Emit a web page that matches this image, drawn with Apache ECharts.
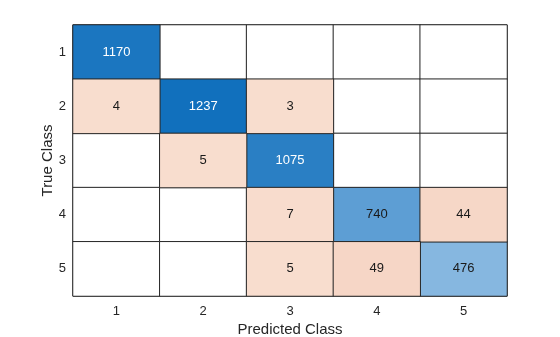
<!DOCTYPE html>
<html><head><meta charset="utf-8">
<script src="https://cdn.jsdelivr.net/npm/echarts@6/dist/echarts.min.js"></script>
<style>html,body{margin:0;padding:0;background:#fff}#c{width:560px;height:337px}</style>
</head><body><div id="c"></div>
<script>
const classLabels = ['1','2','3','4','5'];
const trueClass =      [0,1,1,1,2,2,3,3,3,4,4,4];
const predictedClass = [0,0,1,2,1,2,2,3,4,2,3,4];
const counts =         [1170,4,1237,3,5,1075,7,740,44,5,49,476];

const diag = [], off = [], empty = [];
const filled = new Set();
for (let i = 0; i < counts.length; i++) {
  const p = [predictedClass[i], trueClass[i], counts[i]];
  filled.add(predictedClass[i] + ',' + trueClass[i]);
  if (predictedClass[i] === trueClass[i]) {
    diag.push({value: p, label: {color: counts[i] > 1000 ? '#ffffff' : '#1a1a1a'}});
  } else off.push(p);
}
for (let x = 0; x < 5; x++) for (let y = 0; y < 5; y++)
  if (!filled.has(x + ',' + y)) empty.push([x, y, 0]);

const font = 'Liberation Sans, Arial, sans-serif';
const chart = echarts.init(document.getElementById('c'));
const cellStyle = {borderColor: '#262626', borderWidth: 1};
const lbl = {show: true, fontFamily: font, fontSize: 13, color: '#1a1a1a',
  formatter: p => p.value[2]};
chart.setOption({
  animation: false,
  grid: {left: 73, right: 53, top: 25, bottom: 41, outerBoundsMode: 'none', containLabel: false,
    show: true, borderColor: '#262626', borderWidth: 1},
  xAxis: {type: 'category', data: classLabels, name: 'Predicted Class', nameLocation: 'middle', nameGap: 26,
    nameMoveOverlap: false,
    nameTextStyle: {fontFamily: font, fontSize: 15, color: '#262626'},
    axisLine: {show: false}, axisTick: {show: false},
    axisLabel: {fontFamily: font, fontSize: 13, color: '#262626', margin: 9},
    splitLine: {show: false}},
  yAxis: {type: 'category', data: classLabels, inverse: true, name: 'True Class', nameLocation: 'middle', nameGap: 18,
    nameMoveOverlap: false,
    nameTextStyle: {fontFamily: font, fontSize: 15, color: '#262626'},
    axisLine: {show: false}, axisTick: {show: false},
    axisLabel: {fontFamily: font, fontSize: 13, color: '#262626', margin: 7},
    splitLine: {show: false}},
  visualMap: [
    {show: false, type: 'continuous', seriesIndex: 1, dimension: 2, min: 476, max: 1237,
      inRange: {color: ['#86b7e0', '#1170bd']}},
    {show: false, type: 'continuous', seriesIndex: 2, dimension: 2, min: 3, max: 49,
      inRange: {color: ['#f8ddce', '#f6d6c6']}}
  ],
  series: [
    {type: 'heatmap', data: empty, itemStyle: Object.assign({color: '#ffffff'}, cellStyle), label: {show: false}, silent: true},
    {type: 'heatmap', data: diag, itemStyle: cellStyle, label: lbl},
    {type: 'heatmap', data: off, itemStyle: cellStyle, label: lbl}
  ]
});
</script></body></html>
